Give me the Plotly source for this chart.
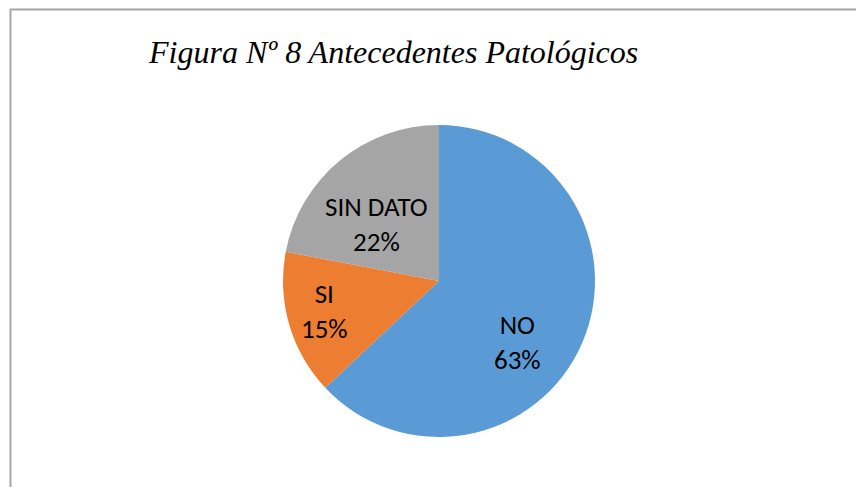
import math
import plotly.graph_objects as go

categories = ["NO", "SI", "SIN DATO"]
values = [63, 15, 22]
colors = ["#5B9BD5", "#ED7D31", "#A5A5A5"]
title_text = "Figura Nº 8 Antecedentes Patológicos"

W, H = 856, 487

# pie placement (pixels)
CX, CY, R = 439, 281, 156
# label placement tweaks: (angle offset in degrees, radial fraction)
label_style = {"NO": (14.4, 0.637), "SI": (1.5, 0.756), "SIN DATO": (-8.0, 0.542)}

fig = go.Figure(go.Pie(
    labels=categories,
    values=values,
    sort=False,
    direction="clockwise",
    rotation=0,
    marker=dict(colors=colors, line=dict(color="white", width=0)),
    textinfo="none",
    hoverinfo="skip",
    domain=dict(x=[(CX - R) / W, (CX + R) / W], y=[(H - CY - R) / H, (H - CY + R) / H]),
    showlegend=False,
))

total = sum(values)
cum = 0
for cat, v in zip(categories, values):
    mid = (cum + v / 2) / total * 360
    cum += v
    off, frac = label_style[cat]
    th = math.radians(mid + off)
    px = CX + frac * R * math.sin(th)
    py = CY - frac * R * math.cos(th)
    pct = round(v / total * 100)
    fig.add_annotation(
        text=f"{cat}<br>{pct}%", xref="paper", yref="paper",
        x=px / W, y=(H - py) / H, xanchor="center", yanchor="middle",
        showarrow=False, align="center",
        font=dict(family="Carlito, Lato, Open Sans, Liberation Sans, sans-serif", size=27, color="#000000"),
    )

fig.add_shape(type="rect", xref="paper", yref="paper",
              x0=10.5 / W, x1=870 / W, y0=-10 / H, y1=(H - 9.5) / H,
              line=dict(color="#A6A6A6", width=2), layer="above")

fig.add_annotation(text="<i>" + title_text + "</i>", xref="paper", yref="paper",
                   x=146 / W, y=(H - 32) / H, xanchor="left", yanchor="top",
                   showarrow=False,
                   font=dict(family="Liberation Serif, Times New Roman, serif", size=32, color="#000000"))

fig.update_layout(
    width=W, height=H,
    margin=dict(l=0, r=0, t=0, b=0),
    paper_bgcolor="white",
    plot_bgcolor="white",
)

fig.write_html("out.html", config={"displayModeBar": False},
               post_script="document.body.style.margin='0';document.body.style.overflow='hidden';")
